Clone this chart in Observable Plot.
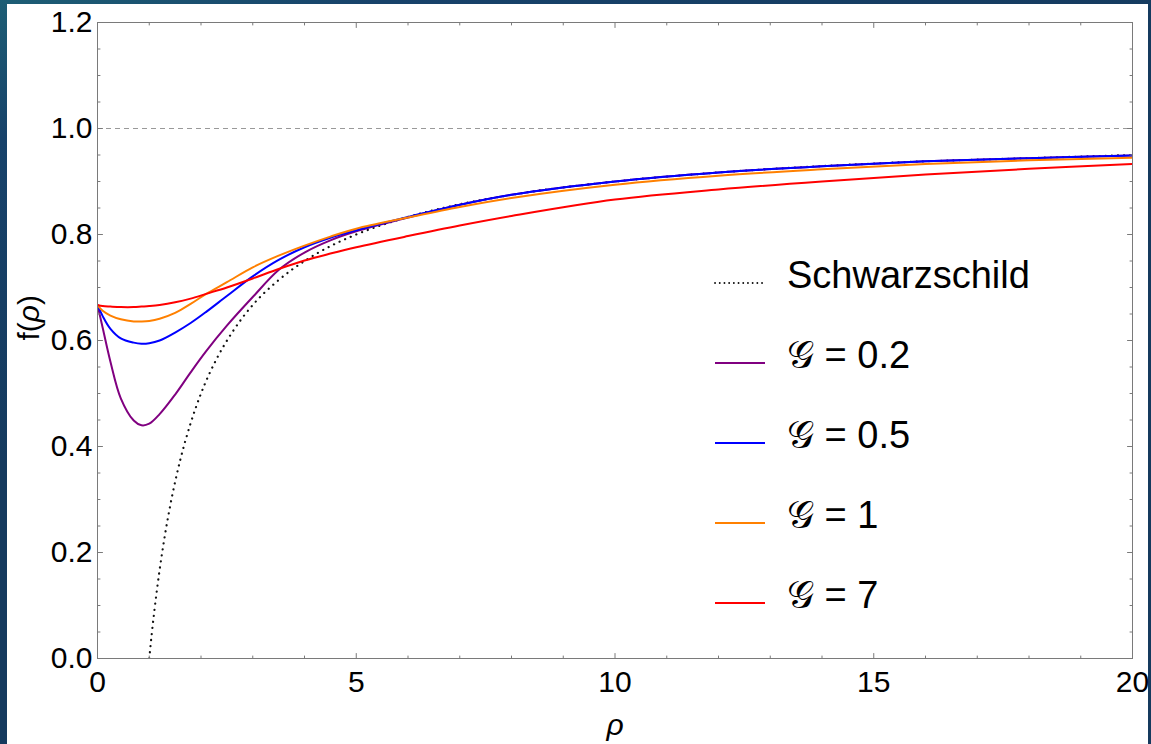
<!DOCTYPE html>
<html><head><meta charset="utf-8">
<script src="https://cdn.jsdelivr.net/npm/d3@7"></script>
<script src="https://cdn.jsdelivr.net/npm/@observablehq/plot@0.6"></script>
<style>
html,body{margin:0;padding:0;width:1151px;height:744px;overflow:hidden;background:#153a5e;}
#bg{position:absolute;left:0;top:0;width:1151px;height:744px;background:linear-gradient(160deg,#1d5e75 0%,#17426a 12%,#153a5e 40%,#153a5e 100%);}
#panel{position:absolute;left:7px;top:4px;width:1141px;height:740px;background:#fff;}
#chart{position:absolute;left:0;top:0;}
#legend{position:absolute;left:0;top:0;}
</style></head><body>
<div id="bg"></div><div id="panel"></div>
<div id="chart"></div>
<svg id="legend" width="1151" height="744"></svg>
<script>
// ---- data ----
const rho = [0, 0.1, 0.25, 0.45, 0.7, 0.85, 1.0, 1.2, 1.5, 1.8, 2.1, 2.5, 3, 3.5, 4, 4.5, 5, 6, 7, 8, 10, 12, 14, 16, 18, 20];
const fG02 = [0.667, 0.624, 0.560, 0.491, 0.449, 0.440, 0.443, 0.461, 0.498, 0.540, 0.580, 0.628, 0.682, 0.733, 0.766, 0.789, 0.806, 0.832, 0.856, 0.875, 0.900, 0.917, 0.929, 0.938, 0.944, 0.949];
const fG05 = [0.667, 0.646, 0.622, 0.604, 0.596, 0.594, 0.595, 0.600, 0.615, 0.633, 0.654, 0.684, 0.721, 0.752, 0.776, 0.794, 0.808, 0.833, 0.856, 0.875, 0.900, 0.917, 0.929, 0.938, 0.944, 0.949];
const fG1  = [0.667, 0.656, 0.647, 0.640, 0.636, 0.636, 0.637, 0.641, 0.652, 0.669, 0.688, 0.710, 0.738, 0.760, 0.779, 0.796, 0.811, 0.832, 0.852, 0.869, 0.894, 0.911, 0.923, 0.933, 0.940, 0.945];
const fG7  = [0.667, 0.665, 0.664, 0.663, 0.663, 0.664, 0.665, 0.667, 0.672, 0.679, 0.688, 0.700, 0.717, 0.735, 0.751, 0.764, 0.776, 0.797, 0.817, 0.835, 0.866, 0.885, 0.900, 0.913, 0.924, 0.933];
const rhoSchw = [1.0, 1.05, 1.1, 1.2, 1.3, 1.4, 1.6, 1.8, 2.0, 2.3, 2.6, 3.0, 3.5, 4.0, 4.5, 5, 6, 7, 8, 10, 12, 14, 16, 18, 20];
const fSchw   = [0, 0.048, 0.091, 0.167, 0.231, 0.286, 0.375, 0.444, 0.5, 0.565, 0.615, 0.667, 0.714, 0.75, 0.778, 0.8, 0.833, 0.857, 0.875, 0.9, 0.917, 0.929, 0.938, 0.944, 0.95];

const seriesNames  = ["Schwarzschild", "𝒢 = 0.2", "𝒢 = 0.5", "𝒢 = 1", "𝒢 = 7"];
const seriesColors = ["#111111", "#800080", "#0000ff", "#ff8000", "#ff0000"];

const xMajor = [0, 5, 10, 15, 20];
const xMinor = [1, 2, 3, 4, 6, 7, 8, 9, 11, 12, 13, 14, 16, 17, 18, 19];
const yMajor = [0, 0.2, 0.4, 0.6, 0.8, 1.0, 1.2];
const yMinor = [0.05, 0.1, 0.15, 0.25, 0.3, 0.35, 0.45, 0.5, 0.55, 0.65, 0.7, 0.75, 0.85, 0.9, 0.95, 1.05, 1.1, 1.15];
const refLine = [1.0];

// ---- build tables ----
const curves = [fG02, fG05, fG1, fG7].flatMap((arr, k) =>
  arr.map((f, i) => ({rho: rho[i], f, series: seriesNames[k + 1]})));
const schw = fSchw.map((f, i) => ({rho: rhoSchw[i], f}));

const tickShape = {draw(ctx, l) { ctx.moveTo(0, 0); ctx.lineTo(0, -l); }};
const frameColor = "#7a7a7a";
const tk = (fn, data, anchor, rot, len, key) => fn(data, {
  [key]: d => d, frameAnchor: anchor, anchor: "start", rotate: rot, length: len,
  shape: tickShape, stroke: frameColor, strokeWidth: 1
});

const chart = Plot.plot({
  width: 1151, height: 744,
  marginLeft: 97, marginRight: 19, marginTop: 22, marginBottom: 86,
  style: {background: "transparent", fontFamily: "'Liberation Sans', Arial, sans-serif", fontSize: "30px", color: "#000"},
  x: {domain: [0, 20]},
  y: {domain: [0, 1.2]},
  color: {domain: seriesNames.slice(1), range: seriesColors.slice(1)},
  marks: [
    Plot.ruleY(refLine, {stroke: "#999", strokeWidth: 1, strokeDasharray: "5,4"}),
    Plot.line(schw, {x: "rho", y: "f", stroke: seriesColors[0], strokeWidth: 2.2,
      strokeDasharray: "0.1,6", strokeLinecap: "round", curve: "monotone-x", clip: true}),
    Plot.line(curves, {x: "rho", y: "f", z: "series", stroke: "series", strokeWidth: 2, curve: "catmull-rom", clip: true}),
    Plot.frame({stroke: frameColor, strokeWidth: 1}),
    tk(Plot.vectorX, xMajor, "bottom", 0, 5, "x"),
    tk(Plot.vectorX, xMinor, "bottom", 0, 2.5, "x"),
    tk(Plot.vectorX, xMajor, "top", 180, 5, "x"),
    tk(Plot.vectorX, xMinor, "top", 180, 2.5, "x"),
    tk(Plot.vectorY, yMajor, "left", 90, 5, "y"),
    tk(Plot.vectorY, yMinor, "left", 90, 2.5, "y"),
    tk(Plot.vectorY, yMajor, "right", 270, 5, "y"),
    tk(Plot.vectorY, yMinor, "right", 270, 2.5, "y"),
    Plot.axisX(xMajor, {tickSize: 0, tickPadding: 12, label: null, tickFormat: d3.format("d")}),
    Plot.axisY(yMajor, {tickSize: 0, tickPadding: 5, label: null, tickFormat: d3.format(".1f")}),
    Plot.text(["ρ"], {frameAnchor: "bottom", dy: 76, fontStyle: "italic", text: d => d}),
    Plot.text(["f(ρ)"], {frameAnchor: "left", dx: -68, rotate: -90, text: d => d})
  ]
});
document.getElementById("chart").appendChild(chart);

// italic rho inside f(ρ)
d3.select(chart).selectAll("text").each(function() {
  if (this.textContent === "f(ρ)") this.innerHTML = 'f(<tspan font-style="italic">ρ</tspan>)';
});

// ---- legend ----
const lg = d3.select("#legend");
const legendX = 715, legendY0 = 283, legendStep = 80;
seriesNames.forEach((name, i) => {
  const y = legendY0 + i * legendStep;
  lg.append("line").attr("x1", legendX).attr("x2", legendX + 50).attr("y1", y).attr("y2", y)
    .attr("stroke", seriesColors[i])
    .attr("stroke-width", i === 0 ? 1.8 : 2)
    .attr("stroke-dasharray", i === 0 ? "0.1,4.6" : null)
    .attr("stroke-linecap", i === 0 ? "round" : "butt");
  lg.append("text").attr("x", legendX + 72).attr("y", y + 5)
    .attr("font-family", "'Liberation Sans', Arial, sans-serif").attr("font-size", 38)
    .attr("fill", "#000").text(name);
});
</script>
</body></html>
